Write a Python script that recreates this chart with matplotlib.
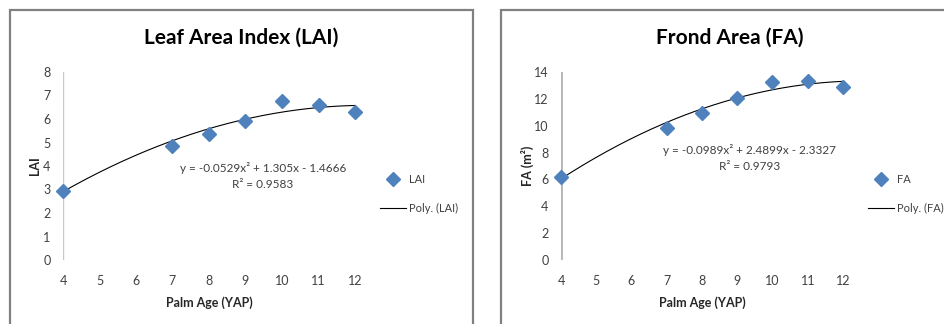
import numpy as np
import matplotlib
matplotlib.use("Agg")
import matplotlib.pyplot as plt
from matplotlib.patches import Rectangle

# ---------------------------------------------
# DATOS
# ---------------------------------------------
edad = [4, 7, 8, 9, 10, 11, 12]
lai = [2.95, 4.87, 5.38, 5.90, 6.77, 6.58, 6.29]
fa = [6.15, 9.85, 10.92, 12.08, 13.28, 13.30, 12.86]

coef_lai = [-0.0529, 1.305, -1.4666]
coef_fa = [-0.0989, 2.4899, -2.3327]
r2_lai = 0.9583
r2_fa = 0.9793

xticks = [4, 5, 6, 7, 8, 9, 10, 11, 12]
yticks_lai = [0, 1, 2, 3, 4, 5, 6, 7, 8]
yticks_fa = [0, 2, 4, 6, 8, 10, 12, 14]

AZUL = "#4F81BD"
plt.rcParams['font.family'] = ['Lato', 'DejaVu Sans']

fig = plt.figure(figsize=(9.45, 3.24), dpi=100)
W, H = 945, 324

# marcos de los graficos
fig.patches.append(Rectangle((10 / W, -0.1), 463 / W, 1.1 - 10 / H, transform=fig.transFigure,
                             fill=False, edgecolor="#808080", lw=1.6))
fig.patches.append(Rectangle((501 / W, -0.1), 0.6, 1.1 - 10 / H, transform=fig.transFigure,
                             fill=False, edgecolor="#808080", lw=1.6))


def panel(rect, y, coef, r2, yticks, titulo, ylabel, nombre, eje_color, eje_lw,
          eq_xy, leg_xy, title_x, ylabel_x):
    ax = fig.add_axes(rect)
    ax.set_xlim(4, 12)
    ax.set_ylim(yticks[0], yticks[-1])
    for s in ax.spines.values():
        s.set_visible(False)
    ax.axvline(4, color=eje_color, lw=eje_lw, zorder=1)
    ax.set_xticks(xticks)
    ax.set_yticks(yticks)
    ax.tick_params(length=0, labelsize=9, colors="#404040")
    ax.tick_params(axis='y', pad=9)
    ax.tick_params(axis='x', pad=11)

    xs = np.linspace(4, 12, 200)
    ys = np.polyval(coef, xs)
    ln, = ax.plot(xs, ys, color="black", lw=0.8, zorder=2, label=f"Poly. ({nombre})",
                  clip_on=False)
    pt, = ax.plot(edad, y, ls="none", marker="D", ms=6.8, color=AZUL, zorder=3, label=nombre,
                  clip_on=False)

    a, b, c = coef
    eq = f"y = {a}x² + {b}x - {abs(c)}\nR² = {r2}"
    fig.text(eq_xy[0] / W, 1 - eq_xy[1] / H, eq, ha="center", va="center", fontsize=8.5,
             color="#404040", linespacing=1.5)

    fig.text(title_x / W, 1 - 38 / H, titulo, ha="center", va="center",
             fontsize=15, fontweight="bold")
    fig.text((rect[0] + rect[2] / 2), 1 - 303 / H, "Palm Age (YAP)", ha="center", va="center",
             fontsize=9, fontweight="bold", color="#262626")
    fig.text(ylabel_x / W, 1 - 166 / H, ylabel, ha="center", va="center", rotation=90,
             fontsize=9, fontweight="bold", color="#262626")

    fig.legend(handles=[pt, ln], loc="upper left",
               bbox_to_anchor=(leg_xy[0] / W, 1 - leg_xy[1] / H),
               frameon=False, fontsize=8, handlelength=2.3, labelspacing=1.6,
               handletextpad=0.3, labelcolor="#404040")
    return ax


y0 = 1 - 260 / H
alto = (260 - 72) / H

panel([63 / W, y0, (355 - 63) / W, alto], lai, coef_lai, r2_lai, yticks_lai,
      "Leaf Area Index (LAI)", "LAI", "LAI", "#c8c8c8", 1.0,
      (263, 176), (370, 164), 241, 35)

panel([561 / W, y0, (843 - 561) / W, alto], fa, coef_fa, r2_fa, yticks_fa,
      "Frond Area (FA)", "FA (m²)", "FA", "#b4b4b4", 2.0,
      (750, 158), (858, 164), 730, 527)

plt.savefig("out.png", dpi=100)
